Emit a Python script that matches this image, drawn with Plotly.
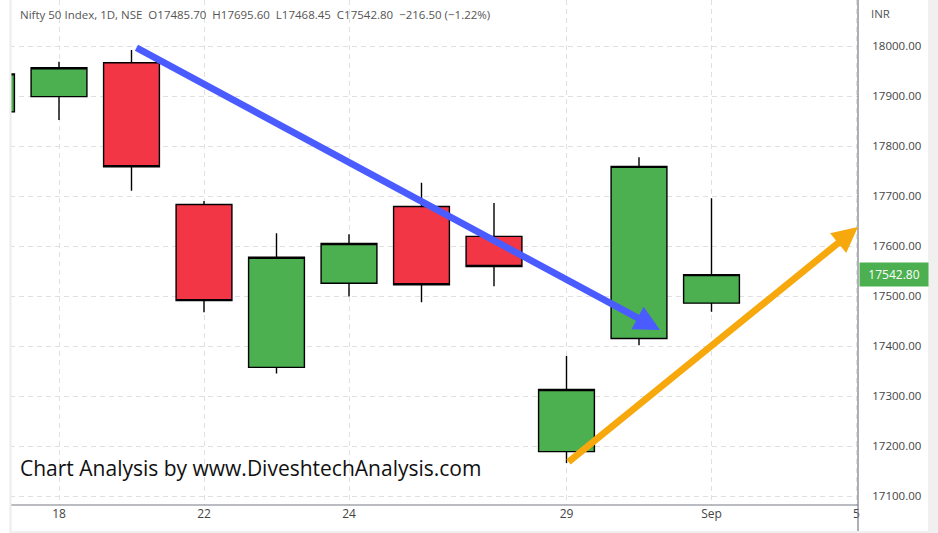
import plotly.graph_objects as go

# ---- data ----
day_index = [-1, 0, 1, 2, 3, 4, 5, 6, 7, 8, 9]  # trading-day positions (Aug 17 .. Sep 1)
open_ = [17868.15, 17898.65, 17966.55, 17682.90, 17357.35, 17525.45, 17679.00, 17619.30, 17188.65, 17414.95, 17485.70]
high = [17965.95, 17968.45, 17992.20, 17690.05, 17625.55, 17623.65, 17726.50, 17685.85, 17380.15, 17777.65, 17695.60]
low = [17833.35, 17852.05, 17710.75, 17467.35, 17345.20, 17499.25, 17487.45, 17519.35, 17166.20, 17401.50, 17468.45]
close = [17944.25, 17956.50, 17758.45, 17490.70, 17577.50, 17604.95, 17522.45, 17558.90, 17312.90, 17759.30, 17542.80]

x_tickvals = [0, 2, 4, 7, 9, 11]
x_ticktext = ["18", "22", "24", "29", "Sep", "5"]
y_tickvals = [17100, 17200, 17300, 17400, 17500, 17600, 17700, 17800, 17900, 18000]

blue_arrow = {"x0": 1.048, "y0": 17998, "x1": 8.29, "y1": 17432}
orange_arrow = {"x0": 7.007, "y0": 17166, "x1": 11.02, "y1": 17638}

last_price = 17542.80
header = ("Nifty 50 Index, 1D, NSE\u00a0\u00a0O17485.70\u00a0\u00a0H17695.60\u00a0\u00a0L17468.45"
          "\u00a0\u00a0C17542.80\u00a0\u00a0\u2212216.50 (\u22121.22%)")
watermark = "Chart Analysis by www.DiveshtechAnalysis.com"

GREEN = "#4caf50"
RED = "#f23645"
FONT = "Open Sans"

fig = go.Figure()
fig.add_trace(go.Candlestick(
    x=day_index, open=open_, high=high, low=low, close=close,
    increasing=dict(fillcolor=GREEN, line=dict(color="#000000", width=1.4)),
    decreasing=dict(fillcolor=RED, line=dict(color="#000000", width=1.4)),
    whiskerwidth=0, hoverinfo="skip", showlegend=False,
))

W, H = 938, 533
ml, mr, mt, mb = 10, 80, 0, 28
pw, ph = W - ml - mr, H - mt - mb

def px_x(p):
    return (p - ml) / pw

def px_y(p):
    return (H - mb - p) / ph

annotations = []
for arr, col in ((blue_arrow, "#4a5cff"), (orange_arrow, "#f7a80d")):
    annotations.append(dict(
        x=arr["x1"], y=arr["y1"], ax=arr["x0"], ay=arr["y0"],
        xref="x", yref="y", axref="x", ayref="y",
        showarrow=True, arrowhead=2, arrowsize=0.75, arrowwidth=6.8,
        arrowcolor=col, text="", standoff=0,
    ))

annotations.append(dict(
    x=px_x(18), y=px_y(14), xref="paper", yref="paper", xanchor="left", yanchor="middle",
    text=header, showarrow=False, font=dict(family=FONT, size=11.5, color="#555555"),
))
annotations.append(dict(
    x=px_x(869), y=px_y(13), xref="paper", yref="paper", xanchor="left", yanchor="middle",
    text="INR", showarrow=False, font=dict(family=FONT, size=11.5, color="#555555"),
))
annotations.append(dict(
    x=px_x(18), y=px_y(468), xref="paper", yref="paper", xanchor="left", yanchor="middle",
    text=watermark, showarrow=False, font=dict(family=FONT, size=21, color="#111111"),
))
annotations.append(dict(
    x=px_x(859), y=last_price, xref="paper", yref="y", xanchor="left", yanchor="middle",
    text=f"{last_price:.2f}", showarrow=False, bgcolor=GREEN, borderpad=3,
    width=62, font=dict(family=FONT, size=12, color="#ffffff"),
))

shapes = [
    # right axis line extending through the bottom label strip
    dict(type="line", xref="paper", yref="paper", x0=px_x(858), x1=px_x(858), y0=px_y(0), y1=px_y(533),
         line=dict(color="#787b86", width=1.2)),
    # bottom axis line
    dict(type="line", xref="paper", yref="paper", x0=px_x(10), x1=px_x(858), y0=px_y(505), y1=px_y(505),
         line=dict(color="#787b86", width=1.2)),
    # outer frame
    dict(type="line", xref="paper", yref="paper", x0=px_x(10.5), x1=px_x(10.5), y0=px_y(0), y1=px_y(533),
         line=dict(color="#ececec", width=2)),
    dict(type="rect", xref="paper", yref="paper", x0=px_x(10), x1=px_x(938), y0=px_y(531), y1=px_y(534),
         line=dict(width=0), fillcolor="#f0f0f0"),
    dict(type="rect", xref="paper", yref="paper", x0=px_x(928), x1=px_x(939), y0=px_y(0), y1=px_y(534),
         line=dict(width=0), fillcolor="#f0f0f0"),
]

fig.update_layout(
    width=W, height=H,
    margin=dict(l=ml, r=mr, t=mt, b=mb),
    paper_bgcolor="#ffffff", plot_bgcolor="#ffffff",
    boxgap=0.23, boxgroupgap=0,
    showlegend=False,
    annotations=annotations,
    shapes=shapes,
    font=dict(family=FONT, color="#444444"),
    xaxis=dict(
        range=[(ml - 59) / 72.5, (858 - 59) / 72.5],
        tickvals=x_tickvals, ticktext=x_ticktext,
        showgrid=True, gridcolor="#e0e0e0", griddash="5px,4px", gridwidth=1,
        zeroline=False, showline=False, ticks="",
        tickfont=dict(family=FONT, size=12, color="#444444"),
        rangeslider=dict(visible=False), fixedrange=True,
    ),
    yaxis=dict(
        side="right",
        range=[18000 - (505 - 46) * 2, 18000 + 46 * 2],
        tickvals=y_tickvals, tickformat=".2f",
        showgrid=True, gridcolor="#e0e0e0", griddash="5px,4px", gridwidth=1,
        zeroline=False, showline=False, ticks="outside", ticklen=6, tickcolor="rgba(0,0,0,0)",
        ticklabelstandoff=5,
        tickfont=dict(family=FONT, size=11.5, color="#444444"),
        fixedrange=True,
    ),
)

fig.write_html("out.html", config={"displayModeBar": False},
               post_script="document.body.style.margin='0';")
